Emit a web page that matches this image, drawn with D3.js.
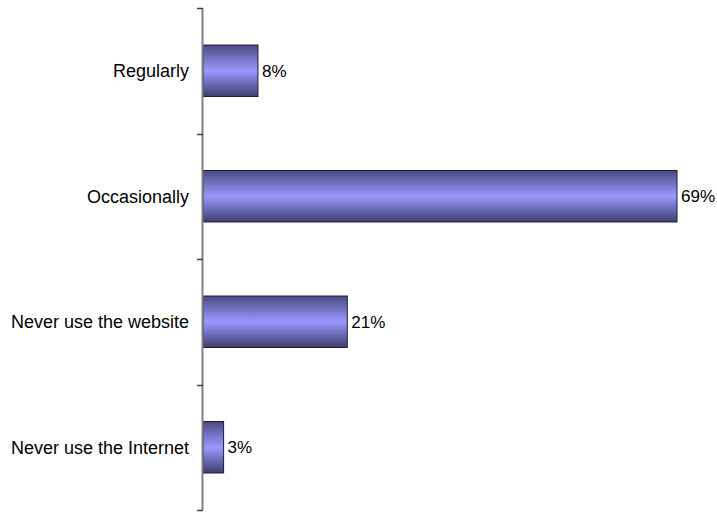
<!DOCTYPE html>
<html>
<head>
<meta charset="utf-8">
<script src="https://cdn.jsdelivr.net/npm/d3@7"></script>
<style>
  html, body { margin: 0; padding: 0; background: #ffffff; }
  svg { display: block; }
</style>
</head>
<body>
<svg id="chart" width="717" height="512"></svg>
<script>
// Survey responses: how often the website is used
const categories = ["Regularly", "Occasionally", "Never use the website", "Never use the Internet"];
const values = [8, 69, 21, 3];
const valueLabels = ["8%", "69%", "21%", "3%"];

const svg = d3.select("#chart");
const plotLeft = 203, plotRight = 677, plotTop = 8, plotBottom = 510;
const fontFamily = "Arial, 'Liberation Sans', sans-serif";

const x = d3.scaleLinear().domain([0, 69]).range([plotLeft, plotRight]);
const y = d3.scaleBand().domain(categories).range([plotTop, plotBottom]).paddingInner(0.59).paddingOuter(0.295);

// Vertical gradient for the bars: dark edges, light centre
const defs = svg.append("defs");
const grad = defs.append("linearGradient")
  .attr("id", "barGrad").attr("x1", 0).attr("y1", 0).attr("x2", 0).attr("y2", 1);
grad.append("stop").attr("offset", "0%").attr("stop-color", "#4a4a82");
grad.append("stop").attr("offset", "50%").attr("stop-color", "#9999ff");
grad.append("stop").attr("offset", "100%").attr("stop-color", "#3e3e6e");

// Bars
svg.append("g").selectAll("rect")
  .data(categories)
  .join("rect")
  .attr("x", x(0))
  .attr("y", d => y(d))
  .attr("width", (d, i) => x(values[i]) - x(0))
  .attr("height", y.bandwidth())
  .attr("fill", "url(#barGrad)")
  .attr("stroke", "#1c1c38")
  .attr("stroke-width", 1);

// Value labels
svg.append("g").selectAll("text")
  .data(categories)
  .join("text")
  .attr("x", (d, i) => x(values[i]) + 4)
  .attr("y", d => y(d) + y.bandwidth() / 2)
  .attr("dy", "0.35em")
  .attr("font-family", fontFamily)
  .attr("font-size", 17)
  .attr("fill", "#000")
  .text((d, i) => valueLabels[i]);

// Category axis line and boundary ticks
const axis = svg.append("g");
axis.append("line")
  .attr("x1", plotLeft - 0.5).attr("x2", plotLeft - 0.5)
  .attr("y1", plotTop).attr("y2", plotBottom)
  .attr("stroke", "#808080").attr("stroke-width", 2);
const boundaries = d3.range(categories.length + 1).map(i => plotTop + i * y.step());
axis.selectAll("line.tick")
  .data(boundaries)
  .join("line")
  .attr("class", "tick")
  .attr("x1", plotLeft - 6).attr("x2", plotLeft)
  .attr("y1", d => Math.round(d) + 0.5).attr("y2", d => Math.round(d) + 0.5)
  .attr("stroke", "#404040").attr("stroke-width", 1.5);

// Category labels
axis.selectAll("text.cat")
  .data(categories)
  .join("text")
  .attr("class", "cat")
  .attr("x", 189)
  .attr("y", d => y(d) + y.bandwidth() / 2)
  .attr("dy", "0.35em")
  .attr("text-anchor", "end")
  .attr("font-family", fontFamily)
  .attr("font-size", 18)
  .attr("fill", "#000")
  .text(d => d);
</script>
</body>
</html>
